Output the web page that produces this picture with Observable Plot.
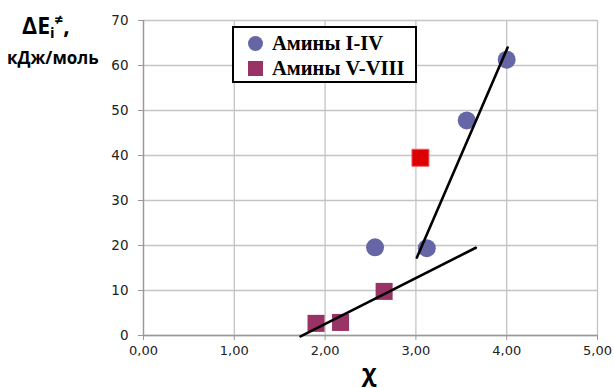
<!DOCTYPE html>
<html><head><meta charset="utf-8">
<script src="https://cdn.jsdelivr.net/npm/d3@7"></script>
<script src="https://cdn.jsdelivr.net/npm/@observablehq/plot@0.6"></script>
<style>
body{margin:0;background:#fff;}
#wrap{position:relative;width:614px;height:388px;overflow:hidden;}
#ytitle{position:absolute;left:22px;top:12px;font-family:"Open Sans","DejaVu Sans",sans-serif;font-weight:700;font-size:23px;color:#000;line-height:1;}
#yunit{position:absolute;left:7px;top:46px;font-family:"Open Sans","DejaVu Sans",sans-serif;font-weight:700;font-size:17px;color:#000;}
#xtitle{position:absolute;left:362px;top:360px;font-family:"Open Sans","DejaVu Sans",sans-serif;font-weight:700;font-size:24px;color:#000;line-height:1;}
#legend{position:absolute;left:232px;top:26px;width:181px;height:53px;border:2px solid #000;background:#fff;font-family:"Liberation Serif","Times New Roman",serif;font-weight:700;font-size:20.5px;}
.li{position:absolute;left:0;height:22px;display:flex;align-items:center;white-space:nowrap;}
.li svg{margin-left:13px;margin-right:8px;}
</style></head>
<body><div id="wrap"></div>
<script>
const circleX = [2.55, 3.12, 3.56, 4.00];
const circleY = [19.6, 19.4, 47.8, 61.3];
const squareX = [1.90, 2.17, 2.65];
const squareY = [2.7, 2.9, 9.8];
const outlierX = [3.05];
const outlierY = [39.5];
const trend1X = [1.73, 3.66];
const trend1Y = [-0.2, 19.5];
const trend2X = [3.01, 4.01];
const trend2Y = [17.3, 64.0];
const xTicks = [0, 1, 2, 3, 4, 5];
const yTicks = [0, 10, 20, 30, 40, 50, 60, 70];
const seriesNames = ["Амины I-IV", "Амины V-VIII"];
const circleColor = "#6666a6";
const squareColor = "#993366";
const outlierColor = "#dd0000";

const circles = circleX.map((x, i) => ({x, y: circleY[i]}));
const squares = squareX.map((x, i) => ({x, y: squareY[i]}));
const outliers = outlierX.map((x, i) => ({x, y: outlierY[i]}));
const t1 = trend1X.map((x, i) => ({x, y: trend1Y[i]}));
const t2 = trend2X.map((x, i) => ({x, y: trend2Y[i]}));

const fmtX = d => d.toFixed(2).replace(".", ",");

const chart = Plot.plot({
  width: 614, height: 388,
  marginLeft: 143, marginRight: 17, marginTop: 20, marginBottom: 53,
  x: {domain: [0, 5]},
  y: {domain: [0, 70]},
  style: {fontFamily: "'DejaVu Sans', Verdana, sans-serif", fontSize: "13px", color: "#222", background: "#fff"},
  marks: [
    Plot.gridX(xTicks, {stroke: "#c4c4c4", strokeOpacity: 1, strokeWidth: 1.3}),
    Plot.gridY(yTicks, {stroke: "#c4c4c4", strokeOpacity: 1, strokeWidth: 1.3}),
    Plot.axisX(xTicks, {tickFormat: fmtX, tickSize: 5, tickPadding: 5, stroke: "#999", label: null, fontSize: 13}),
    Plot.axisY(yTicks, {tickSize: 5, tickPadding: 10, stroke: "#999", label: null, fontSize: 13.5}),
    Plot.ruleY([0], {stroke: "#999", strokeWidth: 1.3}),
    Plot.ruleX([0], {stroke: "#999", strokeWidth: 1.3}),
    Plot.dot(circles, {x: "x", y: "y", r: 9, fill: circleColor, stroke: null}),
    Plot.dot(squares, {x: "x", y: "y", r: 9.6, symbol: "square", fill: squareColor, stroke: null}),
    Plot.dot(outliers, {x: "x", y: "y", r: 9.6, symbol: "square", fill: outlierColor, stroke: "#f06060", strokeWidth: 1}),
    Plot.line(t1, {x: "x", y: "y", stroke: "#000", strokeWidth: 2.6, clip: false}),
    Plot.line(t2, {x: "x", y: "y", stroke: "#000", strokeWidth: 2.6})
  ]
});
const wrap = document.getElementById("wrap");
wrap.appendChild(chart);
chart.style.position = "absolute"; chart.style.left = "0"; chart.style.top = "0";

const yt = document.createElement("div"); yt.id = "ytitle";
yt.innerHTML = "ΔE<sub style='font-size:15px;vertical-align:-4px'>i</sub><sup style='font-size:15px;vertical-align:9px'>≠</sup>,";
wrap.appendChild(yt);
const yu = document.createElement("div"); yu.id = "yunit"; yu.textContent = "кДж/моль"; wrap.appendChild(yu);
const xt = document.createElement("div"); xt.id = "xtitle"; xt.textContent = "χ"; wrap.appendChild(xt);

const lg = document.createElement("div"); lg.id = "legend";
lg.innerHTML =
  `<div class="li" style="top:4px"><svg width="17" height="17"><circle cx="8.5" cy="8.5" r="7.5" fill="${circleColor}"/></svg>${seriesNames[0]}</div>` +
  `<div class="li" style="top:29px"><svg width="17" height="17"><rect x="1" y="1" width="15" height="15" fill="${squareColor}"/></svg>${seriesNames[1]}</div>`;
wrap.appendChild(lg);
</script></body></html>
